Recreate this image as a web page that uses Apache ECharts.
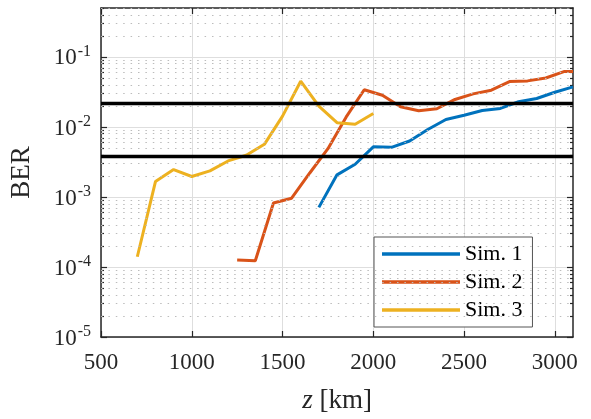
<!DOCTYPE html>
<html>
<head>
<meta charset="utf-8">
<script src="https://cdn.jsdelivr.net/npm/echarts@6/dist/echarts.min.js"></script>
<style>html,body{margin:0;padding:0;background:#fff}#c{width:591px;height:419px}</style>
</head>
<body>
<div id="c"></div>
<script>
// ---- data ----
var sim1X = [1700,1800,1900,2000,2100,2200,2300,2400,2500,2600,2700,2800,2900,3000,3100];
var sim1Y = [7.1e-4,2.07e-3,2.93e-3,5.2e-3,5.12e-3,6.3e-3,9.2e-3,1.28e-2,1.47e-2,1.72e-2,1.84e-2,2.29e-2,2.55e-2,3.13e-2,3.74e-2];
var sim2X = [1250,1350,1450,1550,1650,1750,1850,1950,2050,2150,2250,2350,2450,2550,2650,2750,2850,2950,3050,3100];
var sim2Y = [1.26e-4,1.23e-4,8.2e-4,9.6e-4,2.2e-3,4.9e-3,1.38e-2,3.4e-2,2.84e-2,1.94e-2,1.70e-2,1.82e-2,2.47e-2,2.97e-2,3.35e-2,4.45e-2,4.55e-2,5.0e-2,6.18e-2,6.2e-2];
var sim3X = [700,800,900,1000,1100,1200,1300,1400,1500,1600,1700,1800,1900,2000];
var sim3Y = [1.4e-4,1.66e-3,2.46e-3,1.96e-3,2.36e-3,3.27e-3,3.95e-3,5.65e-3,1.43e-2,4.5e-2,1.98e-2,1.15e-2,1.09e-2,1.56e-2];
var seriesNames = ['Sim. 1','Sim. 2','Sim. 3'];
var thresholds = [2.2e-2, 3.8e-3];
var xTicks = [500,1000,1500,2000,2500,3000];
var yMajor = [1e-5,1e-4,1e-3,1e-2,1e-1];

// ---- helpers ----
function pairs(xs, ys){ return xs.map(function(x,i){ return [x, ys[i]]; }); }
var yMinor = [];
for (var e = -5; e <= -1; e++) {
  for (var k = 2; k <= 9; k++) {
    var v = k * Math.pow(10, e);
    if (v <= 0.5) yMinor.push(v);
  }
}
var FONT = 'Liberation Serif';
var TXT = '#262626';
function logLabel(v){
  var ex = Math.round(Math.log10(v));
  if (Math.abs(v - Math.pow(10, ex)) / v > 1e-6) return '';
  return '{b|10}{s|' + ex + '}';
}
function yAxisBase(pos){
  return {
    type: 'log', logBase: 10, min: 1e-5, max: 0.5, position: pos,
    axisLine: {show: true, lineStyle: {color: TXT, width: 1.5}},
    axisTick: {show: true, inside: true, length: 6, lineStyle: {color: TXT, width: 1.2}, customValues: yMajor},
    axisLabel: {show: false},
    splitLine: {show: false},
    minorTick: {show: false}
  };
}
var yLeft = yAxisBase('left');
yLeft.axisLabel = {
  show: true, margin: 10, formatter: logLabel, customValues: yMajor,
  textStyle: {fontFamily: FONT}, fontFamily: FONT, fontSize: 23, color: TXT,
  rich: {
    b: {fontFamily: FONT, fontSize: 23, color: TXT, lineHeight: 26, verticalAlign: 'bottom'},
    s: {fontFamily: FONT, fontSize: 16, color: TXT, verticalAlign: 'top', padding: [0,0,0,1]}
  }
};
yLeft.splitLine = {show: true, lineStyle: {color: '#dedede', width: 1}};
var yRight = yAxisBase('right');
var yMinL = yAxisBase('left');
yMinL.axisLine = {show: false};
yMinL.axisTick = {show: true, inside: true, length: 3, lineStyle: {color: TXT, width: 1.2}, customValues: yMinor};
var yMinR = yAxisBase('right');
yMinR.axisLine = {show: false};
yMinR.axisTick = {show: true, inside: true, length: 3, lineStyle: {color: TXT, width: 1.2}, customValues: yMinor};

function xAxisBase(pos){
  return {
    type: 'value', min: 500, max: 3100, interval: 500, position: pos,
    axisLine: {show: true, onZero: false, lineStyle: {color: TXT, width: 1.5}},
    axisTick: {show: true, inside: true, length: 6, lineStyle: {color: TXT, width: 1.2}, customValues: xTicks},
    axisLabel: {show: false},
    splitLine: {show: false}
  };
}
var xBottom = xAxisBase('bottom');
xBottom.axisLabel = {
  show: true, margin: 14, fontFamily: FONT, fontSize: 23, color: TXT, customValues: xTicks,
  formatter: function(v){ return '{n|' + ((v % 500 === 0) ? String(v) : '') + '}'; },
  rich: {n: {fontFamily: FONT, fontSize: 23, color: TXT}}
};
xBottom.splitLine = {show: true, lineStyle: {color: '#dedede', width: 1}};
xBottom.name = '{i|z} [km]';
xBottom.nameLocation = 'middle';
xBottom.nameGap = 50;
xBottom.nameTextStyle = {fontFamily: FONT, fontSize: 27, color: TXT,
  rich: {i: {fontFamily: FONT, fontSize: 27, fontStyle: 'italic', color: TXT}}};
yLeft.name = 'BER';
yLeft.nameLocation = 'middle';
yLeft.nameGap = 66;
yLeft.nameTextStyle = {fontFamily: FONT, fontSize: 27, color: TXT};
var xTop = xAxisBase('top');

var minorLines = yMinor.map(function(v){ return {yAxis: v}; });
var threshLines = thresholds.map(function(v){ return {yAxis: v}; });
var colors = ['#0072BD', '#D95319', '#EDB120'];
var xs = [sim1X, sim2X, sim3X], ys = [sim1Y, sim2Y, sim3Y];

var series = [
  {type: 'line', name: 'grid', data: [], silent: true, z: 1,
   markLine: {silent: true, symbol: 'none', precision: 10, label: {show: false}, animation: false,
     lineStyle: {color: '#bcbcbc', width: 1, type: [1.5, 5.9]}, emphasis: {disabled: true}, data: minorLines}},
  {type: 'line', name: 'thr', data: [], silent: true, z: 2,
   markLine: {silent: true, symbol: 'none', precision: 10, label: {show: false}, animation: false,
     lineStyle: {color: '#000', width: 3.4, type: 'solid'}, emphasis: {disabled: true}, data: threshLines}}
];
seriesNames.forEach(function(n, i){
  series.push({type: 'line', name: n, data: pairs(xs[i], ys[i]), symbol: 'none', z: 3,
    lineStyle: {color: colors[i], width: 3}, itemStyle: {color: colors[i]}, animation: false});
});

var chart = echarts.init(document.getElementById('c'), null, {renderer: 'canvas'});
chart.setOption({
  animation: false,
  backgroundColor: '#fff',
  textStyle: {fontFamily: FONT},
  grid: {left: 101, right: 18, top: 8, bottom: 81, containLabel: false},
  xAxis: [xBottom, xTop],
  yAxis: [yLeft, yRight, yMinL, yMinR],
  legend: {
    data: seriesNames, orient: 'vertical', left: 374, top: 237, icon: 'rect',
    backgroundColor: '#fff', borderColor: '#555', borderWidth: 1,
    padding: [6, 10, 6, 8], itemGap: 6, itemWidth: 78, itemHeight: 3.5,
    textStyle: {fontFamily: FONT, fontSize: 22, color: '#000', lineHeight: 22}
  },
  series: series
});
</script>
</body>
</html>
